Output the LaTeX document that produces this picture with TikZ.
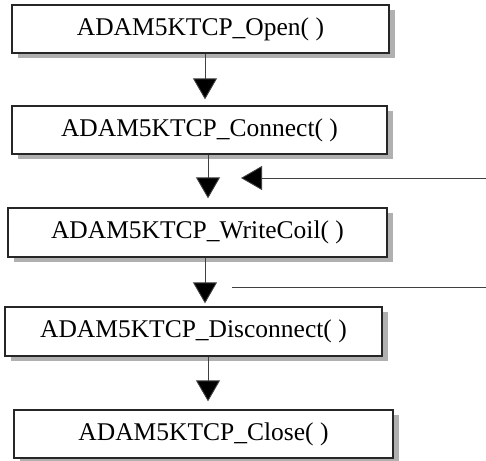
\documentclass[tikz,border=0pt]{standalone}
\usepackage{fontspec}
\setmainfont{Liberation Serif}
\usetikzlibrary{positioning,arrows.meta,shadows}

\begin{document}
\begin{tikzpicture}[x=1pt,y=-1pt,
    fbox/.style={draw=black!85,line width=1.3pt,fill=white,inner sep=0pt,
      minimum height=48pt,font=\fontsize{25.5pt}{30pt}\selectfont,
      drop shadow={shadow xshift=6pt,shadow yshift=-5pt,fill=black!31,opacity=1}},
    flow/.style={draw=black!75,line width=0.9pt,
      -{Triangle[length=21pt,width=24pt,fill=black]},shorten >=6pt}]
  \useasboundingbox (0,0) rectangle (486,460);
  % boxes placed at pixel coordinates of the reference (y grows downwards)
  \node[fbox,minimum width=377pt] (open)   at (200.5,29)  {ADAM5KTCP\_Open( )};
  \node[fbox,minimum width=375pt] (conn)   at (199.5,130) {ADAM5KTCP\_Connect( )};
  \node[fbox,minimum width=379pt,minimum height=49pt] (write) at (197.5,232.5) {ADAM5KTCP\_WriteCoil( )};
  \node[fbox,minimum width=377pt,minimum height=49pt] (disc)  at (193.5,331.5) {ADAM5KTCP\_Disconnect( )};
  \node[fbox,minimum width=379pt] (close)  at (203.5,434) {ADAM5KTCP\_Close( )};
  % arrow columns and loop ends
  \coordinate (colA) at (205,0);
  \coordinate (colB) at (208,0);
  \coordinate (loopin)   at (486,178);
  \coordinate (loophead) at (241,178);
  \coordinate (loopout)  at (486,287);
  \coordinate (loopfoot) at (232,287);
  \draw[flow] (open.south -| colA) -- (conn.north -| colA);
  \draw[flow,shorten >=9pt] (conn.south -| colB) -- (write.north -| colB);
  \draw[flow,shorten >=3pt] (write.south -| colA) -- (disc.north -| colA);
  \draw[flow,shorten >=8pt] (disc.south -| colB) -- (close.north -| colB);
  \draw[flow,shorten >=0pt] (loopin) -- (loophead);
  \draw[draw=black!75,line width=0.9pt] (loopfoot) -- (loopout);
\end{tikzpicture}
\end{document}
